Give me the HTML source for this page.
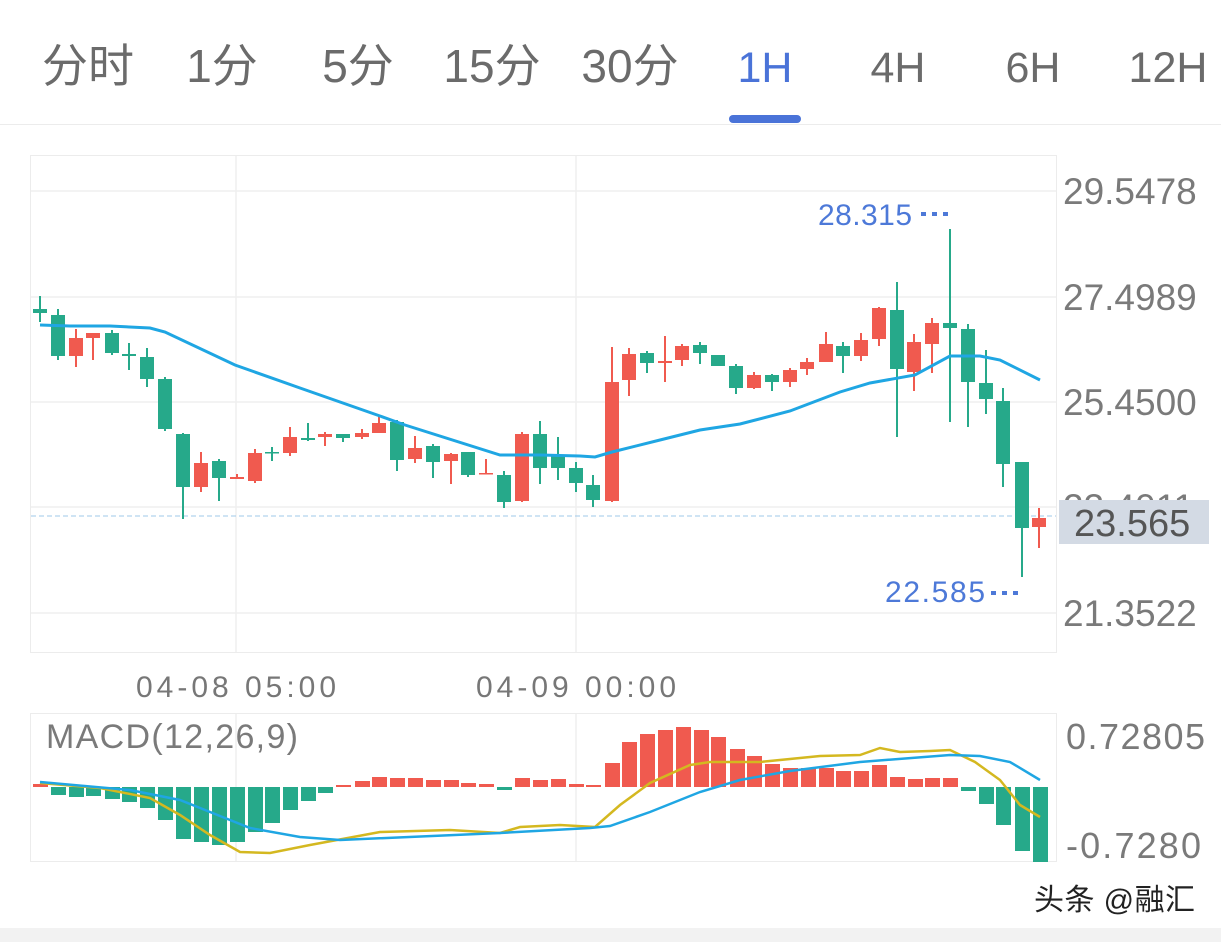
<!DOCTYPE html>
<html><head><meta charset="utf-8"><style>
html,body{margin:0;padding:0;background:#fff;width:1221px;height:942px;overflow:hidden}
svg{display:block}
text{font-family:"Liberation Sans","Noto Sans CJK SC",sans-serif}
</style></head><body>
<svg id="s" width="1221" height="942" viewBox="0 0 1221 942" xmlns="http://www.w3.org/2000/svg">
<rect x="0" y="0" width="1221" height="942" fill="#fff"/>
<g font-size="46" fill="#6b6b6b" text-anchor="middle">
<text x="88" y="82">分时</text>
<text x="222" y="82">1分</text>
<text x="358" y="82">5分</text>
<text x="492" y="82">15分</text>
<text x="630" y="82">30分</text>
<text x="765" y="82" fill="#4a73d8" font-size="43">1H</text>
<text x="898" y="82" font-size="43">4H</text>
<text x="1033" y="82" font-size="43">6H</text>
<text x="1168" y="82" font-size="43">12H</text>
</g>
<rect x="729" y="115" width="72" height="8" rx="4" fill="#4a73d8"/>
<line x1="0" y1="124.5" x2="1221" y2="124.5" stroke="#ececec" stroke-width="1"/>
<rect x="30.5" y="155.5" width="1026" height="497" fill="none" stroke="#ececec"/>
<g stroke="#efefef" stroke-width="1.5">
<line x1="31" y1="191" x2="1056" y2="191"/>
<line x1="31" y1="297" x2="1056" y2="297"/>
<line x1="31" y1="402" x2="1056" y2="402"/>
<line x1="31" y1="507" x2="1056" y2="507"/>
<line x1="31" y1="613" x2="1056" y2="613"/>
<line x1="236" y1="156" x2="236" y2="652"/>
<line x1="576" y1="156" x2="576" y2="652"/>
<line x1="236" y1="714" x2="236" y2="861"/>
<line x1="576" y1="714" x2="576" y2="861"/>
</g>
<line x1="31" y1="516" x2="1056" y2="516" stroke="#9fc8e8" stroke-width="1" stroke-dasharray="5,3"/>
<g font-size="37" fill="#7a7a7a">
<text x="1063" y="204">29.5478</text>
<text x="1063" y="310">27.4989</text>
<text x="1063" y="415">25.4500</text>
<text x="1063" y="520">23.4011</text>
<text x="1063" y="626">21.3522</text>
</g>
<rect x="1059" y="500" width="150" height="44" fill="#d3dae4"/>
<text x="1074" y="536" font-size="38" fill="#555">23.565</text>
<g font-size="30" fill="#777" text-anchor="middle" textLength="200">
<text x="236" y="697" textLength="200">04-08 05:00</text>
<text x="576" y="697" textLength="200">04-09 00:00</text>
</g>
<g id="candles"></g>
<polyline fill="none" stroke="#1fa6e3" stroke-width="3" points="40,325 70,326 110,326 150,328 165,332 235,365 300,388 380,416 405,425 500,455 540,455 580,456 595,457 612,452 660,440 700,430 740,424 790,411 840,392 870,383 915,375 950,356 980,356 1000,360 1040,380"/>
<text x="818" y="225" font-size="30" fill="#4d79d8" textLength="94">28.315</text>
<g fill="#4d79d8"><rect x="921" y="212" width="5" height="4"/><rect x="932" y="212" width="5" height="4"/><rect x="943" y="212" width="5" height="4"/>
<rect x="991" y="591" width="5" height="4"/><rect x="1002" y="591" width="5" height="4"/><rect x="1013" y="591" width="5" height="4"/></g>
<text x="885" y="602" font-size="30" fill="#4d79d8" textLength="100">22.585</text>
<rect x="30.5" y="713.5" width="1026" height="148" fill="none" stroke="#ececec"/>
<text x="46" y="748" font-size="34" fill="#7a7a7a" textLength="252">MACD(12,26,9)</text>
<g font-size="36" fill="#7a7a7a">
<text x="1066" y="749" textLength="139">0.72805</text>
<text x="1066" y="858" textLength="135">-0.7280</text>
</g>
<g id="bars"></g>
<polyline fill="none" stroke="#d4b820" stroke-width="2.5" points="40,783 100,788 150,798 180,815 210,835 240,852 270,853 310,845 380,832 450,830 500,833 520,827 560,825 595,827 620,805 650,783 690,765 710,762 760,762 820,756 860,755 880,748 900,752 930,751 950,750 975,762 1000,780 1020,805 1040,817"/>
<polyline fill="none" stroke="#1fa6e3" stroke-width="2.5" points="40,782 130,790 180,800 230,820 250,828 300,837 340,840 500,833 590,828 610,826 650,812 700,792 740,780 790,771 860,762 950,755 980,756 1010,762 1040,780"/>
<text x="1034" y="910" font-size="30" fill="#222" textLength="161">头条 @融汇</text>
<rect x="0" y="928" width="1221" height="14" fill="#f2f2f2"/>
</svg>
<script>
var G="#26a98a",R="#f05a4f",NS="http://www.w3.org/2000/svg";
var c=[[40,309,313,296,322,G],[58,315,356,309,360,G],[76,338,356,329,367,R],[93,333,338,333,360,R],[112,333,353,330,355,G],[129,354,356,343,370,G],[147,357,379,348,387,G],[165,379,429,377,431,G],[183,434,487,433,519,G],[201,463,487,452,492,R],[219,461,478,459,501,G],[237,477,479,474,479,R],[255,453,481,449,483,R],[272,452,453,447,461,G],[290,437,453,427,456,R],[308,438,440,423,441,G],[325,434,437,432,446,R],[343,434,438,434,442,G],[362,433,437,429,439,R],[379,423,433,415,433,R],[397,422,460,420,471,G],[415,448,459,436,463,R],[433,446,462,444,478,G],[451,454,461,453,484,R],[468,452,475,452,477,G],[486,473,474,459,474,R],[504,475,502,471,508,G],[522,434,501,432,502,R],[540,434,468,421,484,G],[558,455,468,437,480,G],[576,468,483,462,492,G],[593,485,500,475,507,G],[612,382,501,347,502,R],[629,354,380,348,396,R],[647,353,363,351,373,G],[665,361,363,336,382,R],[682,346,360,344,366,R],[700,345,353,342,364,G],[718,355,366,355,366,G],[736,366,388,364,394,G],[754,375,388,372,389,R],[772,375,382,374,391,G],[790,370,382,368,387,R],[807,362,369,358,375,R],[826,344,362,332,362,R],[843,346,356,342,373,G],[861,340,356,333,361,R],[879,308,339,307,346,R],[897,310,369,282,437,G],[914,342,372,334,391,R],[932,323,344,318,373,R],[950,323,328,229,422,G],[968,329,382,324,427,G],[986,383,399,350,414,G],[1003,401,464,388,487,G],[1022,462,528,462,577,G],[1039,518,527,508,548,R]];
var g=document.getElementById("candles");
function r(p,x,y,w,h,f){var e=document.createElementNS(NS,"rect");e.setAttribute("x",x);e.setAttribute("y",y);e.setAttribute("width",w);e.setAttribute("height",Math.max(h,1.5));e.setAttribute("fill",f);p.appendChild(e);}
c.forEach(function(k){r(g,k[0]-1,k[3],2,k[4]-k[3],k[5]);r(g,k[0]-7,k[1],14,k[2]-k[1],k[5]);});
var b=[[40,784],[58,795],[76,797],[93,796],[112,799],[129,802],[147,808],[165,820],[183,839],[201,842],[219,845],[237,842],[255,832],[272,823],[290,810],[308,801],[325,793],[343,785],[362,781],[379,777],[397,778],[415,778],[433,780],[451,780],[468,783],[486,784],[504,790],[522,778],[540,780],[558,779],[576,784],[593,785],[612,763],[629,742],[647,734],[665,730],[683,727],[701,730],[718,737],[737,749],[754,756],[772,764],[790,768],[808,768],[826,768],[843,771],[861,771],[879,765],[897,777],[915,779],[932,778],[950,778],[968,791],[986,804],[1003,825],[1022,851],[1040,862]];
var gb=document.getElementById("bars"),Z=787;
b.forEach(function(k){if(k[1]<Z)r(gb,k[0]-7,k[1],15,Z-k[1],R);else r(gb,k[0]-7,Z,15,k[1]-Z,G);});
</script>
</body></html>
